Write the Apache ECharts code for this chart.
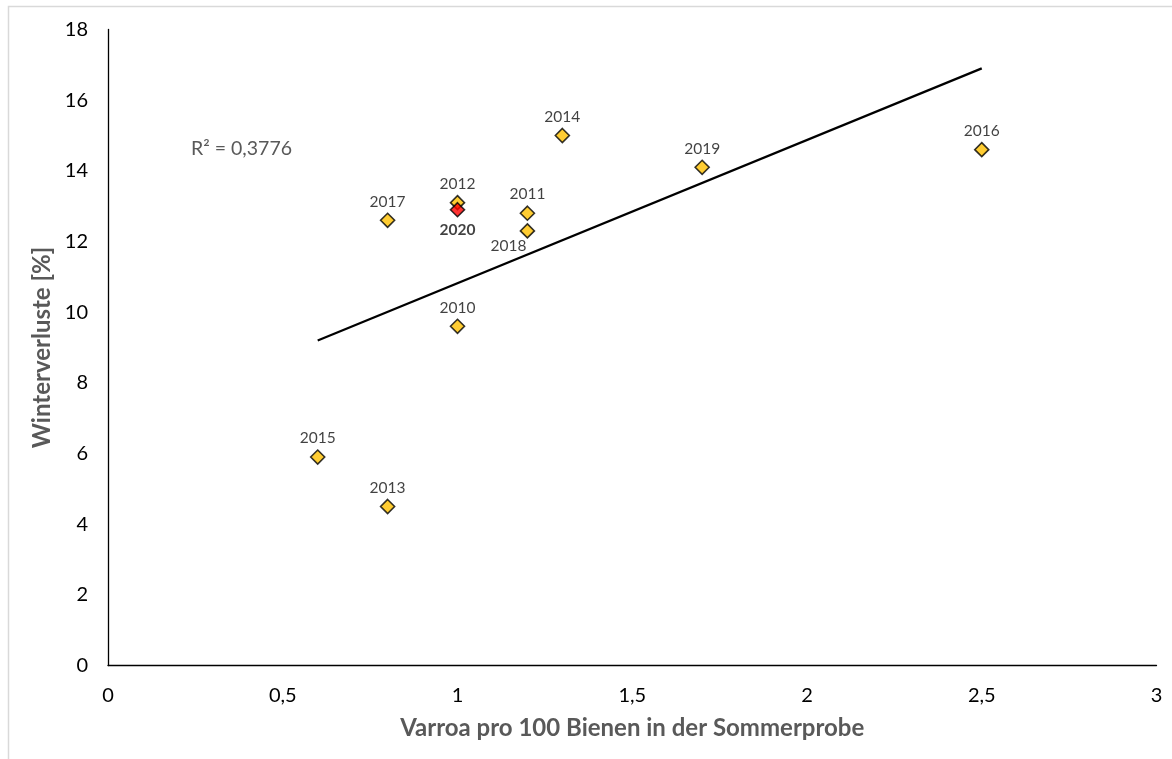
<!DOCTYPE html>
<html>
<head>
<meta charset="utf-8">
<script src="https://cdn.jsdelivr.net/npm/echarts@6/dist/echarts.min.js"></script>
<style>
html,body{margin:0;padding:0;background:#fff;}
#chart{width:1172px;height:759px;}
</style>
</head>
<body>
<div id="chart"></div>
<script>
var years = ['2010','2011','2012','2013','2014','2015','2016','2017','2018','2019'];
var varroa = [1.0, 1.2, 1.0, 0.8, 1.3, 0.6, 2.5, 0.8, 1.2, 1.7];
var losses = [9.6, 12.8, 13.1, 4.5, 15.0, 5.9, 14.6, 12.6, 12.3, 14.1];
var highlightYear = ['2020'];
var highlightVarroa = [1.0];
var highlightLoss = [12.9];
var trendX = [0.6, 2.5];
var trendY = [9.2, 16.9];
var xTicks = ['0','0,5','1','1,5','2','2,5','3'];
var yTicks = ['0','2','4','6','8','10','12','14','16','18'];
var r2Text = 'R² = 0,3776';

var FONT = 'Lato, "Open Sans", sans-serif';
var chart = echarts.init(document.getElementById('chart'), null, {renderer:'canvas'});

var mainData = years.map(function(y,i){
  var d = {value:[varroa[i], losses[i]], name:y};
  if (y === '2018') {
    d.label = {position:'bottom', offset:[-19, -4]};
  }
  return d;
});
var hlData = highlightYear.map(function(y,i){
  return {value:[highlightVarroa[i], highlightLoss[i]], name:y};
});

chart.setOption({
  backgroundColor:'#fff',
  animation:false,
  graphic:[
    {type:'rect', shape:{x:8.5, y:6.5, width:1200, height:800}, style:{fill:null, stroke:'#d9d9d9', lineWidth:1.5}, z:-10},
    {type:'text', left:191, top:139, style:{text:r2Text, fill:'#595959', font:'19.5px ' + FONT}}
  ],
  grid:{left:108, right:15.5, top:29.5, bottom:93.5},
  xAxis:{
    type:'value', min:0, max:3, interval:0.5,
    axisLine:{show:true, lineStyle:{color:'#000', width:1.3}},
    axisTick:{show:false},
    splitLine:{show:false},
    axisLabel:{color:'#000', fontSize:20, fontFamily:FONT, margin:20,
      formatter:function(v){ return xTicks[Math.round(v/0.5)]; }},
    name:'Varroa pro 100 Bienen in der Sommerprobe',
    nameLocation:'middle', nameGap:51,
    nameTextStyle:{color:'#595959', fontSize:24, fontWeight:'bold', fontFamily:FONT}
  },
  yAxis:{
    type:'value', min:0, max:18, interval:2,
    axisLine:{show:true, lineStyle:{color:'#000', width:1.3}},
    axisTick:{show:false},
    splitLine:{show:false},
    axisLabel:{color:'#000', fontSize:20, fontFamily:FONT, margin:20,
      formatter:function(v){ return yTicks[Math.round(v/2)]; }},
    name:'Winterverluste [%]',
    nameLocation:'middle', nameGap:45,
    nameTextStyle:{color:'#595959', fontSize:24, fontWeight:'bold', fontFamily:FONT}
  },
  series:[
    {
      type:'line', data:trendX.map(function(x,i){return [x, trendY[i]];}),
      showSymbol:false, symbol:'none', lineStyle:{color:'#000', width:2.2}, z:1, silent:true
    },
    {
      type:'scatter', data:mainData, symbol:'diamond', symbolSize:[14,14],
      itemStyle:{color:'#FFC000', borderColor:'#000', borderWidth:1.6},
      label:{show:true, position:'top', distance:3, formatter:'{b}', color:'#111', fontSize:15.5, fontFamily:FONT},
      z:3
    },
    {
      type:'scatter', data:hlData, symbol:'diamond', symbolSize:[14,14],
      itemStyle:{color:'#FF0000', borderColor:'#000', borderWidth:1.6},
      label:{show:true, position:'bottom', distance:4, formatter:'{b}', color:'#111', fontSize:15.5, fontWeight:'bold', fontFamily:FONT},
      z:4
    }
  ]
});
</script>
</body>
</html>
